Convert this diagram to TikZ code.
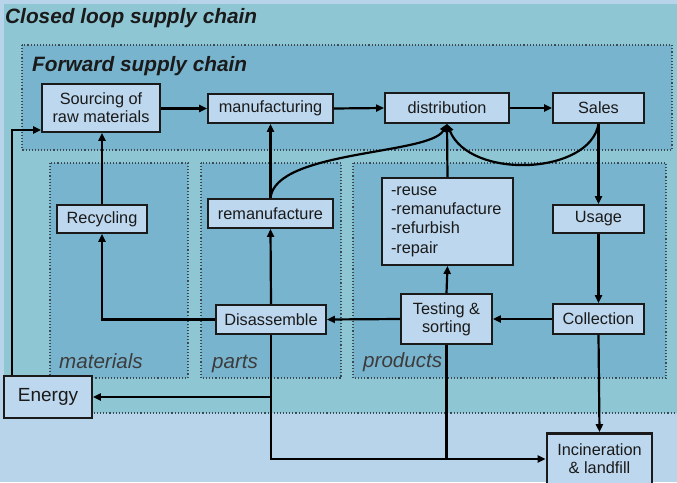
\documentclass[tikz,border=0pt]{standalone}
\usepackage{fontspec}
\setmainfont{Liberation Sans}
\usetikzlibrary{arrows.meta}
\definecolor{bgblue}{HTML}{B8D4EA}
\definecolor{teal1}{HTML}{8EC6D4}
\definecolor{reg}{HTML}{79B4CF}
\definecolor{boxfill}{HTML}{BDD7EE}
\definecolor{ink}{HTML}{1A1A1A}
\definecolor{dots}{HTML}{3A4A55}
\tikzset{
  box/.style={draw=ink, line width=1.8pt, fill=boxfill, rectangle, inner sep=0pt, align=center,
              text=ink, font=\fontsize{16.3}{18}\selectfont},
  arr/.style={draw=black, line width=2.2pt, -{Triangle[length=8pt,width=7pt]}},
  ln/.style={draw=black, line width=2.2pt},
  region/.style={draw=dots, line width=1.1pt, dotted, fill=reg},
  title/.style={anchor=base west, inner sep=0pt, text=ink, font=\fontsize{20.8}{22}\selectfont\bfseries\itshape},
  rlabel/.style={anchor=base west, inner sep=0pt, text=ink!85, font=\fontsize{20.6}{22}\selectfont\itshape}
}
\begin{document}
\begin{tikzpicture}[x=1pt,y=-1pt]
\useasboundingbox (0,0) rectangle (677,482);
\fill[bgblue] (0,0) rectangle (677,482);
\fill[teal1] (4,4) rectangle (677,413);
\draw[dots, line width=1.1pt, dotted] (4,413) -- (677,413);
% regions
\filldraw[region] (22,45) rectangle (672,150);
\filldraw[region] (50,163) rectangle (188,378);
\filldraw[region] (201,163) rectangle (341,378);
\filldraw[region] (353,163) rectangle (666,378);
% titles
\node[title] (tcl) at (5,23) {Closed loop supply chain};
\node[title] (tfw) at (32,71) {Forward supply chain};
\node[rlabel] (lmat) at (59,368) {materials};
\node[rlabel] (lpar) at (212,368) {parts};
\node[rlabel] (lpro) at (363,367) {products};
% nodes
\node[box, minimum width=118pt, minimum height=48pt] (src) at (101,108) {Sourcing of\\raw materials};
\node[box, minimum width=125pt, minimum height=29pt] (man) at (270.5,108.5) {manufacturing};
\node[box, minimum width=124pt, minimum height=30pt] (dist) at (447,108) {distribution};
\node[box, minimum width=91pt, minimum height=30pt] (sales) at (598.5,108) {Sales};
\node[box, minimum width=90pt, minimum height=28pt] (rec) at (102,219) {Recycling};
\node[box, minimum width=125pt, minimum height=29pt] (reman) at (270.5,213.5) {remanufacture};
\node[box, minimum width=131pt, minimum height=87pt, align=left, text width=113pt,
      font=\fontsize{16.3}{19.3}\selectfont] (reuse) at (447.5,221.5) {-reuse\\-remanufacture\\-refurbish\\-repair};
\node[box, minimum width=91pt, minimum height=28pt] (usage) at (598.5,219) {Usage};
\node[box, minimum width=110pt, minimum height=29pt] (dis) at (271,319.5) {Disassemble};
\node[box, minimum width=91pt, minimum height=50pt] (test) at (446.5,319) {Testing \&\\sorting};
\node[box, minimum width=91pt, minimum height=30pt] (coll) at (598.5,319) {Collection};
\node[box, minimum width=88pt, minimum height=42pt, font=\fontsize{19}{22}\selectfont] (energy) at (48,397) {Energy};
\node[box, line width=2.6pt, minimum width=105pt, minimum height=51pt] (inc) at (599.5,459) {Incineration\\\& landfill};
% forward chain
\draw[arr] (src.east |- man.west) -- (man.west);
\draw[arr] (man.east) -- (dist.west);
\draw[arr] (dist.east) -- (sales.west);
% upward links
\draw[arr] (rec.north) -- (rec.north |- src.south);
\draw[arr] (reman.north) -- (reman.north |- man.south);
\draw[arr] (reuse.north) -- (dist.south);
\draw[arr] (reman.north) .. controls (275,150) and (430,155) .. (dist.south);
\draw[arr] (sales.south) .. controls (590,175) and (470,180) .. (dist.south);
% energy
\coordinate (ec) at (12,130);
\draw[arr] (energy.north -| ec) |- (src.west |- ec);
% reverse flow
\draw[arr] (sales.south) -- (usage.north);
\draw[arr] (usage.south) -- (coll.north);
\draw[arr] (coll.west) -- (test.east);
\draw[arr] (test.north) -- (reuse.south);
\draw[arr] (test.west) -- (dis.east);
\draw[arr] (dis.west) -| (rec.south);
\draw[arr] (dis.north) -- (reman.south);
\draw[arr] (dis.south) |- (inc.west);
\draw[arr] (dis.south |- energy.east) -- (energy.east);
\draw[ln] (test.south) -- (test.south |- inc.west);
\draw[arr] (coll.south) -- (inc.north);
\end{tikzpicture}
\end{document}
